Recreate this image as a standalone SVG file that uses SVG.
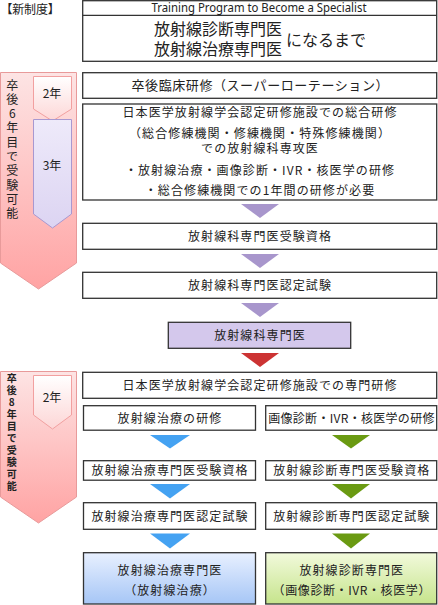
<svg xmlns="http://www.w3.org/2000/svg" width="438" height="605" viewBox="0 0 438 605">
<defs>
<linearGradient id="gPink" x1="0" y1="0" x2="0" y2="1"><stop offset="0" stop-color="#fde4e4"/><stop offset="1" stop-color="#ffa3a3"/></linearGradient>
<linearGradient id="gPinkBox" x1="0" y1="0" x2="0" y2="1"><stop offset="0" stop-color="#ffffff"/><stop offset="1" stop-color="#fdd6d6"/></linearGradient>
<linearGradient id="gLav" x1="0" y1="0" x2="0" y2="1"><stop offset="0" stop-color="#eeeafa"/><stop offset="1" stop-color="#dcd4f2"/></linearGradient>
<linearGradient id="gBlue" x1="0" y1="0" x2="0" y2="1"><stop offset="0" stop-color="#e8f0ff"/><stop offset="1" stop-color="#a6c6f6"/></linearGradient>
<linearGradient id="gGreen" x1="0" y1="0" x2="0" y2="1"><stop offset="0" stop-color="#f2fadc"/><stop offset="1" stop-color="#c6e48c"/></linearGradient>
</defs>
<style>
.box{fill:#ffffff;stroke:#333333;stroke-width:1.3}
.t{font-family:"Noto Sans CJK JP","Noto Sans",sans-serif;font-size:12px;fill:#222222;text-anchor:middle;letter-spacing:1.1px}
.t13{font-family:"Noto Sans CJK JP","Noto Sans",sans-serif;font-size:13px;fill:#222222;text-anchor:middle}
.t16{font-family:"Noto Sans CJK JP","Noto Sans",sans-serif;font-size:16px;fill:#222222}
.v{font-family:"Noto Sans CJK JP","Noto Sans",sans-serif;font-size:12px;fill:#222222;writing-mode:vertical-rl;text-orientation:upright;letter-spacing:2.3px}
.v2{font-family:"Noto Sans CJK JP","Noto Sans",sans-serif;font-size:10px;font-weight:bold;fill:#222222;writing-mode:vertical-rl;text-orientation:upright;letter-spacing:2px}
.pA{fill:#a896cc}
.rA{fill:#cc3333}
.bA{fill:#44a2f2}
.gA{fill:#6a9a12}
</style>

<g id="label-new">
<text x="0.5" y="14.2" class="t16" style="font-size:12px;letter-spacing:-0.2px">【新制度】</text>
</g>

<g id="title">
<rect class="box" x="82.7" y="0.7" width="354" height="60.6"/>
<line x1="82.7" y1="15.3" x2="436.7" y2="15.3" stroke="#333" stroke-width="1.3"/>
<text x="259" y="11.6" font-family="Noto Sans, sans-serif" font-size="12.5" fill="#222" text-anchor="middle" textLength="215" lengthAdjust="spacingAndGlyphs">Training Program to Become a Specialist</text>
<text x="154" y="35.2" class="t16">放射線診断専門医</text>
<text x="154" y="55.2" class="t16">放射線治療専門医</text>
<text x="286" y="45.8" class="t16">になるまで</text>
</g>

<g id="timeline1">
<polygon points="0.5,72.5 76.5,72.5 76.5,263 38.5,289 0.5,263" fill="url(#gPink)" stroke="#e89a9a" stroke-width="1"/>
<polygon points="33.5,76.5 71.5,76.5 71.5,109 52.5,121 33.5,109" fill="url(#gPinkBox)" stroke="#f2a0a0" stroke-width="1"/>
<text x="52" y="97.8" class="t13" style="font-size:12px">2年</text>
<polygon points="33.5,119.5 71.5,119.5 71.5,214 52.5,228 33.5,214" fill="url(#gLav)" stroke="#a898d0" stroke-width="1"/>
<text x="52" y="169.5" class="t13" style="font-size:12px">3年</text>
<text x="12.3" y="79" class="v">卒後6年目で受験可能</text>
</g>

<g id="timeline2">
<polygon points="0.5,371.5 76.5,371.5 76.5,497 38.5,523 0.5,497" fill="url(#gPink)" stroke="#e89a9a" stroke-width="1"/>
<polygon points="33.5,375.5 71.5,375.5 71.5,415 52.5,429 33.5,415" fill="url(#gPinkBox)" stroke="#f2a0a0" stroke-width="1"/>
<text x="52" y="401.8" class="t13" style="font-size:12px">2年</text>
<text x="11.7" y="373.5" class="v2">卒後8年目で受験可能</text>
</g>

<g id="n-rotation">
<rect class="box" x="82.7" y="72.7" width="354" height="25.6"/>
<text x="260" y="90.3" class="t13" textLength="257" lengthAdjust="spacing">卒後臨床研修（スーパーローテーション）</text>
</g>

<g id="n-general">
<rect class="box" x="82.7" y="104" width="354" height="96"/>
<text x="260" y="116.8" class="t">日本医学放射線学会認定研修施設での総合研修</text>
<text x="260" y="137.8" class="t">（総合修練機関・修練機関・特殊修練機関）</text>
<text x="260" y="152.8" class="t">での放射線科専攻医</text>
<text x="260" y="174.5" class="t">・放射線治療・画像診断・IVR・核医学の研修</text>
<text x="260" y="194.5" class="t">・総合修練機関での1年間の研修が必要</text>
</g>

<g id="n-qual">
<rect class="box" x="82.7" y="223.3" width="354" height="26"/>
<text x="260" y="240.8" class="t">放射線科専門医受験資格</text>
</g>

<g id="n-exam">
<rect class="box" x="82.7" y="272.3" width="354" height="26"/>
<text x="260" y="289.8" class="t">放射線科専門医認定試験</text>
</g>

<g id="n-radiologist">
<rect x="168.3" y="322.3" width="182.4" height="26" fill="#d4c8ec" stroke="#333" stroke-width="1.3"/>
<text x="260" y="339.8" class="t">放射線科専門医</text>
</g>

<g id="n-special">
<rect class="box" x="82.7" y="372.3" width="354" height="26"/>
<text x="260" y="389.8" class="t">日本医学放射線学会認定研修施設での専門研修</text>
</g>

<g id="n-rt-train">
<rect class="box" x="83.5" y="405.7" width="172" height="24.5"/>
<text x="170" y="422.5" class="t">放射線治療の研修</text>
</g>
<g id="n-dx-train">
<rect class="box" x="265.7" y="405.7" width="171" height="24.5"/>
<text x="351.5" y="422.5" class="t" style="letter-spacing:0.3px">画像診断・IVR・核医学の研修</text>
</g>

<g id="n-rt-qual">
<rect class="box" x="83.5" y="460.7" width="172" height="19.5"/>
<text x="170" y="474.8" class="t">放射線治療専門医受験資格</text>
</g>
<g id="n-dx-qual">
<rect class="box" x="265.7" y="460.7" width="171" height="19.5"/>
<text x="351.8" y="474.8" class="t">放射線診断専門医受験資格</text>
</g>

<g id="n-rt-exam">
<rect class="box" x="83.5" y="502.7" width="172" height="26.6"/>
<text x="170" y="520.5" class="t">放射線治療専門医認定試験</text>
</g>
<g id="n-dx-exam">
<rect class="box" x="265.7" y="502.7" width="171" height="26.6"/>
<text x="351.8" y="520.5" class="t">放射線診断専門医認定試験</text>
</g>

<g id="n-rt-final">
<rect x="83.5" y="552.7" width="172" height="51.3" fill="url(#gBlue)" stroke="#333" stroke-width="1.3"/>
<text x="170" y="575.2" class="t">放射線治療専門医</text>
<text x="170" y="594.5" class="t">（放射線治療）</text>
</g>
<g id="n-dx-final">
<rect x="265.7" y="552.7" width="171" height="51.3" fill="url(#gGreen)" stroke="#333" stroke-width="1.3"/>
<text x="351.8" y="575.2" class="t">放射線診断専門医</text>
<text x="351.8" y="594.5" class="t" style="letter-spacing:0.6px">（画像診断・IVR・核医学）</text>
</g>

<g id="connectors">
<polygon class="pA" points="241,204 279,204 260,218"/>
<polygon class="pA" points="241,254 279,254 260,268"/>
<polygon class="pA" points="241,303 279,303 260,317"/>
<polygon class="rA" points="241,353 279,353 260,367"/>
<polygon class="bA" points="150,435 190,435 170,448.5"/>
<polygon class="gA" points="332,435 370,435 351,448.5"/>
<polygon class="bA" points="150,484 190,484 170,498.5"/>
<polygon class="gA" points="332,484 370,484 351,498.5"/>
<polygon class="bA" points="150,533.5 190,533.5 170,548.5"/>
<polygon class="gA" points="332,533.5 370,533.5 351,548.5"/>
</g>
</svg>
